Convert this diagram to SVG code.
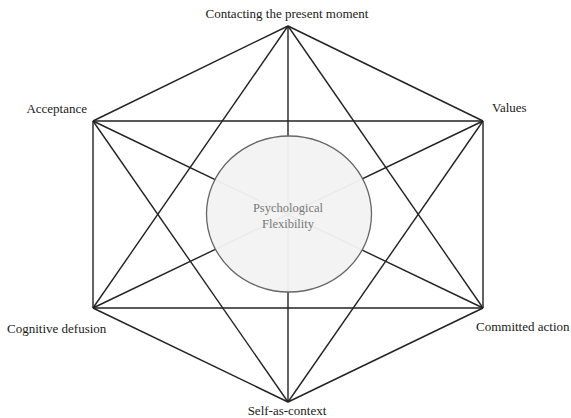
<svg xmlns="http://www.w3.org/2000/svg" width="571" height="418" viewBox="0 0 571 418">
<style>
.e{stroke:#222;stroke-width:1.4;fill:none}
.t{font-family:"Liberation Serif",serif;font-size:13px;fill:#1a1a1a}
.c{font-family:"Liberation Serif",serif;font-size:12.5px;fill:#777}
</style>
<rect width="571" height="418" fill="#fff"/>
<g id="connectors">
<line class="e" x1="288" y1="26" x2="93" y2="121"/>
<line class="e" x1="288" y1="26" x2="483" y2="121"/>
<line class="e" x1="288" y1="26" x2="93" y2="308"/>
<line class="e" x1="288" y1="26" x2="483" y2="308"/>
<line class="e" x1="288" y1="26" x2="288" y2="402"/>
<line class="e" x1="93" y1="121" x2="483" y2="121"/>
<line class="e" x1="93" y1="121" x2="93" y2="308"/>
<line class="e" x1="93" y1="121" x2="483" y2="308"/>
<line class="e" x1="93" y1="121" x2="288" y2="402"/>
<line class="e" x1="483" y1="121" x2="483" y2="308"/>
<line class="e" x1="483" y1="121" x2="93" y2="308"/>
<line class="e" x1="483" y1="121" x2="288" y2="402"/>
<line class="e" x1="93" y1="308" x2="483" y2="308"/>
<line class="e" x1="93" y1="308" x2="288" y2="402"/>
<line class="e" x1="483" y1="308" x2="288" y2="402"/>
</g>
<g id="present"><text class="t" x="287" y="18" text-anchor="middle">Contacting the present moment</text></g>
<g id="acceptance"><text class="t" x="87" y="113" text-anchor="end">Acceptance</text></g>
<g id="values"><text class="t" x="492" y="112">Values</text></g>
<g id="defusion"><text class="t" x="7" y="333">Cognitive defusion</text></g>
<g id="committed"><text class="t" x="476" y="331">Committed action</text></g>
<g id="self"><text class="t" x="287" y="415" text-anchor="middle">Self-as-context</text></g>
<g id="flexibility">
<ellipse cx="289" cy="214" rx="82.5" ry="78" fill="#f2f2f2" fill-opacity="0.96" stroke="#666" stroke-width="1.3"/>
<text class="c" x="288" y="212" text-anchor="middle">Psychological</text>
<text class="c" x="288" y="228" text-anchor="middle">Flexibility</text>
</g>
</svg>
